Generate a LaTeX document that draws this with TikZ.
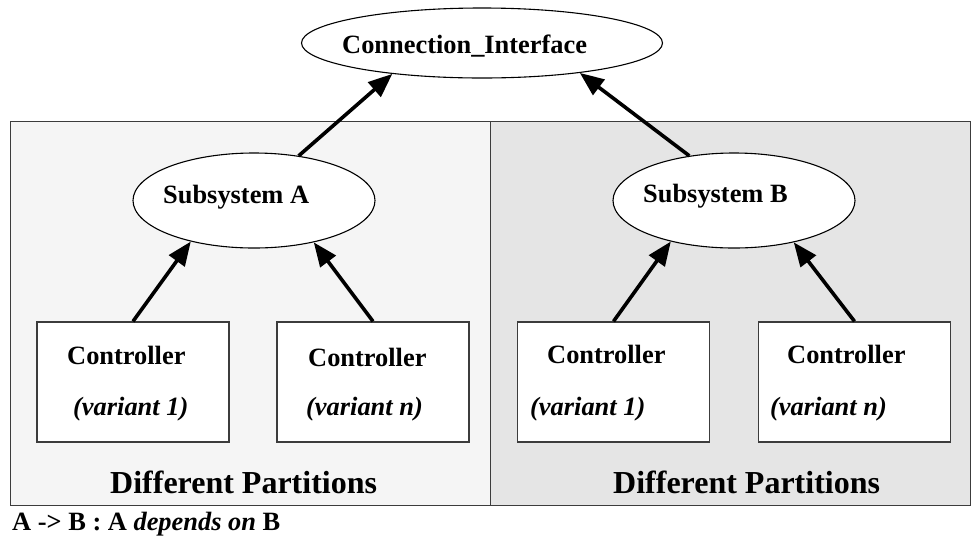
\documentclass[tikz,border=0pt]{standalone}
\usepackage{fontspec}
\setmainfont{Liberation Serif}
\usetikzlibrary{shapes.geometric,arrows.meta}
\definecolor{leftfill}{RGB}{245,245,245}
\definecolor{rightfill}{RGB}{229,229,229}
\definecolor{edgegray}{RGB}{60,60,60}
\begin{document}
\begin{tikzpicture}[x=1pt,y=-1pt,
  every node/.style={font=\fontsize{26.4}{30}\selectfont\bfseries},
  panel/.style={draw=edgegray, line width=1.3pt, rectangle, inner sep=0pt, anchor=north west,
    minimum width=480pt, minimum height=384pt},
  ell/.style={draw=black, line width=1.1pt, fill=white, ellipse, inner sep=0pt},
  box/.style={draw=edgegray, line width=1.3pt, fill=white, rectangle, inner sep=0pt,
    minimum width=192pt, minimum height=120pt},
  dep/.style={line width=3.6pt, -{Triangle[length=24pt,width=19pt]}},
  txt/.style={anchor=base west, inner sep=0pt},
  bigtxt/.style={anchor=base west, inner sep=0pt, font=\fontsize{32}{36}\selectfont\bfseries}]
\useasboundingbox (0,0) rectangle (980,550);

% partitions
\node[panel, fill=leftfill]  (pl) at (10,121) {};
\node[panel, fill=rightfill] (pr) at (490,121) {};
\node[bigtxt] (dpl) at (110,493) {Different Partitions};
\node[bigtxt] (dpr) at (613,493) {Different Partitions};

% ellipses
\node[ell, minimum width=361pt, minimum height=70pt] (ci) at (482,43) {};
\node[txt] (cit) at (342,53) {Connection\_Interface};
\node[ell, minimum width=242pt, minimum height=95pt] (sa) at (254,200.5) {};
\node[txt] (sat) at (163,203) {Subsystem A};
\node[ell, minimum width=242pt, minimum height=95pt] (sb) at (734,200.5) {};
\node[txt] (sbt) at (643,202) {Subsystem B};

% controllers
\node[box] (b1) at (133,382) {};
\node[box] (b2) at (373,382) {};
\node[box] (b3) at (613.5,382) {};
\node[box] (b4) at (854.5,382) {};
\node[txt] (b1a) at (67,364) {Controller};
\node[txt] (b1b) at (73,415) {\itshape (variant 1)};
\node[txt] (b2a) at (308,366) {Controller};
\node[txt] (b2b) at (306,415) {\itshape (variant n)};
\node[txt] (b3a) at (547,363) {Controller};
\node[txt] (b3b) at (530,415) {\itshape (variant 1)};
\node[txt] (b4a) at (787,363) {Controller};
\node[txt] (b4b) at (770,415) {\itshape (variant n)};

% dependencies
\draw[dep] (sa.45)  -- (ci.199);
\draw[dep] (sb.135) -- (ci.343.7);
\draw[dep] (b1.north) -- (sa.213);
\draw[dep] (b2.north) -- (sa.325);
\draw[dep] (b3.north) -- (sb.213);
\draw[dep] (b4.north) -- (sb.325);

% legend
\node[txt] (legend) at (12,530) {A -> B : A \textit{depends on} B};
\end{tikzpicture}
\end{document}
